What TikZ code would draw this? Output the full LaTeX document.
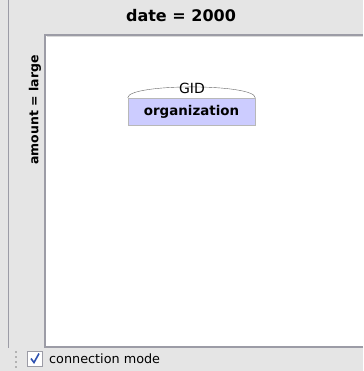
\documentclass[tikz,border=0pt]{standalone}
\usepackage{fontspec}
\setmainfont{DejaVu Sans}
\usepackage{tikz}
\usetikzlibrary{positioning,calc}
\definecolor{bggray}{HTML}{E5E5E5}
\definecolor{framegray}{HTML}{9C9CA6}
\definecolor{nodeblue}{HTML}{CCCCFF}
\definecolor{checkblue}{HTML}{2F52B0}

\tikzset{
  axislabel/.style={inner sep=0pt, font=\fontsize{16}{18}\selectfont\bfseries},
  entitybox/.style={draw=black!28, fill=nodeblue, minimum width=127pt, minimum height=27pt,
    inner sep=0pt, font=\fontsize{13.4}{15}\selectfont\bfseries},
  keylabel/.style={inner sep=0pt, font=\fontsize{14}{16}\selectfont},
  gripdot/.style={fill=black!30, minimum size=2pt, inner sep=0pt}
}

\begin{document}
\begin{tikzpicture}[x=1pt,y=-1pt]
\fill[bggray] (0,0) rectangle (363,371);
\useasboundingbox (0,0) rectangle (363,371);
% left rule and drawing panel
\draw[framegray, line width=1.3pt] (8.5,0) -- (8.5,348);
\fill[white] (45,35) rectangle (363,347);
\draw[framegray, line width=1.2pt] (363,347) -- (45,347) -- (45,35) -- (363,35);
\draw[black!15] (46.5,36.5) -- (363,36.5);

% headers
\node[axislabel] (D) at (181,16) {date = 2000};
\node[axislabel, font=\fontsize{12.5}{14}\selectfont\bfseries, rotate=90] (A) at (35,110) {amount = large};

% entity
\node[entitybox] (O) at (191.5,111.5) {organization};
\draw[black!60] (O.north west) .. controls ($(O.north west)+(0,-14.5)$) and ($(O.north east)+(0,-14.5)$) .. (O.north east);
\node[keylabel] (K) at (192,88.5) {GID};

% bottom bar
\foreach \y in {352,357,362,367}
  \node[gripdot] at (16,\y) {};
\node[draw=framegray, fill=white, minimum size=15pt, inner sep=0pt] (C) at (35,358.5) {};
\draw[checkblue, line width=1.6pt] ($(C.center)+(-4,0)$) -- ($(C.center)+(-1,4)$) -- ($(C.center)+(4,-5)$);
\node[anchor=west, inner sep=0pt, font=\fontsize{12.8}{14}\selectfont] (M) at (49,358.5) {connection mode};
\end{tikzpicture}
\end{document}
